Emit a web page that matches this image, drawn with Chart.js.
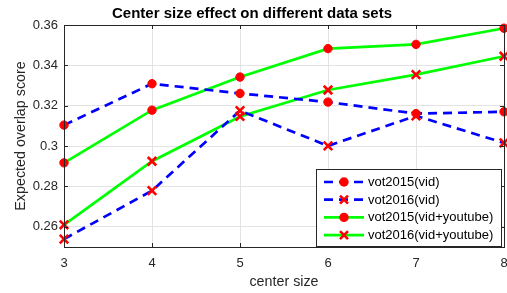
<!DOCTYPE html>
<html>
<head>
<meta charset="utf-8">
<script src="https://cdn.jsdelivr.net/npm/chart.js@4"></script>
<style>
  html, body { margin: 0; padding: 0; background: #fff; }
  #box { width: 507px; height: 293px; }
</style>
</head>
<body>
<div id="box"><canvas id="chart" width="507" height="293"></canvas></div>
<script>
// values
const centerSizes = [3, 4, 5, 6, 7, 8];
const vot2015Vid = [0.3104, 0.3309, 0.3261, 0.3218, 0.3161, 0.3170];
const vot2016Vid = [0.2539, 0.2779, 0.3176, 0.3001, 0.3150, 0.3016];
const vot2015VidYoutube = [0.2917, 0.3178, 0.3342, 0.3483, 0.3504, 0.3584];
const vot2016VidYoutube = [0.2610, 0.2925, 0.3147, 0.3278, 0.3354, 0.3445];
const yTickValues = [0.26, 0.28, 0.3, 0.32, 0.34, 0.36];
const seriesNames = ["vot2015(vid)", "vot2016(vid)", "vot2015(vid+youtube)", "vot2016(vid+youtube)"];

const textColor = "#262626";
const fontFamily = "'Liberation Sans', Arial, Helvetica, sans-serif";

const toPoints = (values) => values.map((v, i) => ({ x: centerSizes[i], y: v }));

const makeSet = (label, values, color, dashed, marker) => ({
  label: label,
  data: toPoints(values),
  borderColor: color,
  borderWidth: 2.7,
  borderDash: dashed ? [9, 6] : [],
  pointStyle: marker,
  pointRadius: marker === "circle" ? 4.2 : 6,
  pointBorderWidth: marker === "circle" ? 1 : 2.6,
  pointBackgroundColor: "#ff0000",
  pointBorderColor: "#ff0000",
  tension: 0,
  clip: false,
});

// box, inward ticks and legend like the matlab figure
const figurePlugin = {
  id: "figurePlugin",
  afterDatasetsDraw(chart) {
    const ctx = chart.ctx;
    const a = chart.chartArea;
    const xs = chart.scales.x;
    const ys = chart.scales.y;
    ctx.save();
    ctx.strokeStyle = textColor;
    ctx.lineWidth = 1;
    ctx.beginPath();
    centerSizes.forEach((c) => {
      const px = Math.round(xs.getPixelForValue(c)) + 0.5;
      ctx.moveTo(px, a.bottom);
      ctx.lineTo(px, a.bottom - 4);
      ctx.moveTo(px, a.top);
      ctx.lineTo(px, a.top + 4);
    });
    yTickValues.forEach((t) => {
      const py = Math.round(ys.getPixelForValue(t)) + 0.5;
      ctx.moveTo(a.left, py);
      ctx.lineTo(a.left + 4, py);
      ctx.moveTo(a.right, py);
      ctx.lineTo(a.right - 4, py);
    });
    ctx.stroke();
    ctx.strokeRect(Math.round(a.left) + 0.5, Math.round(a.top) + 0.5,
      Math.round(a.right - a.left), Math.round(a.bottom - a.top));

    // legend
    const lx = 316.5, ly = 169.5, lw = 185, lh = 77;
    ctx.fillStyle = "#fff";
    ctx.fillRect(lx, ly, lw, lh);
    ctx.strokeStyle = textColor;
    ctx.strokeRect(lx, ly, lw, lh);
    ctx.font = "13px " + fontFamily;
    ctx.textBaseline = "middle";
    chart.data.datasets.forEach((ds, i) => {
      const y = 182 + i * 17.7;
      ctx.strokeStyle = ds.borderColor;
      ctx.lineWidth = ds.borderWidth;
      ctx.setLineDash(ds.borderDash);
      ctx.beginPath();
      ctx.moveTo(324, y);
      ctx.lineTo(364, y);
      ctx.stroke();
      ctx.setLineDash([]);
      ctx.fillStyle = "#ff0000";
      ctx.strokeStyle = "#ff0000";
      ctx.lineWidth = ds.pointBorderWidth;
      ctx.beginPath();
      if (ds.pointStyle === "circle") {
        ctx.arc(344, y, 4.7, 0, Math.PI * 2);
        ctx.fill();
      } else {
        const r = 4;
        ctx.moveTo(344 - r, y - r);
        ctx.lineTo(344 + r, y + r);
        ctx.moveTo(344 + r, y - r);
        ctx.lineTo(344 - r, y + r);
        ctx.stroke();
      }
      ctx.fillStyle = "#000";
      ctx.fillText(ds.label, 368, y + 0.5);
    });
    ctx.restore();
  },
};

new Chart(document.getElementById("chart"), {
  type: "line",
  data: {
    datasets: [
      makeSet(seriesNames[0], vot2015Vid, "#0000ff", true, "circle"),
      makeSet(seriesNames[1], vot2016Vid, "#0000ff", true, "crossRot"),
      makeSet(seriesNames[2], vot2015VidYoutube, "#00ff00", false, "circle"),
      makeSet(seriesNames[3], vot2016VidYoutube, "#00ff00", false, "crossRot"),
    ],
  },
  plugins: [figurePlugin],
  options: {
    responsive: false,
    animation: false,
    layout: { autoPadding: false, padding: { left: 0, right: 3, top: 0, bottom: 0 } },
    plugins: {
      legend: { display: false },
      tooltip: { enabled: false },
      title: {
        display: true,
        text: "Center size effect on different data sets",
        color: "#000",
        font: { family: fontFamily, size: 15, weight: "bold", lineHeight: 1.2 },
        padding: { top: 5, bottom: 2 },
      },
    },
    scales: {
      x: {
        type: "linear",
        min: 3,
        max: 8,
        afterFit: (scale) => {
          scale.height = 46;
          scale.paddingLeft = 0;
          scale.paddingRight = 0;
        },
        afterBuildTicks: (scale) => { scale.ticks = centerSizes.map((v) => ({ value: v })); },
        ticks: { color: textColor, font: { family: fontFamily, size: 13 }, padding: 9 },
        grid: { color: "#e3e3e3", drawTicks: false },
        border: { display: true, color: textColor },
        title: {
          display: true,
          text: "center size",
          color: textColor,
          font: { family: fontFamily, size: 14.3 },
          padding: { top: 2, bottom: 2 },
        },
      },
      y: {
        min: 0.25,
        max: 0.36,
        afterFit: (scale) => { scale.width = 64; },
        afterBuildTicks: (scale) => { scale.ticks = yTickValues.map((v) => ({ value: v })); },
        ticks: {
          color: textColor,
          font: { family: fontFamily, size: 13 },
          padding: 6,
          callback: (v) => String(+v.toFixed(2)),
        },
        grid: { color: "#e3e3e3", drawTicks: false },
        border: { display: true, color: textColor },
        title: {
          display: true,
          text: "Expected overlap score",
          color: textColor,
          font: { family: fontFamily, size: 14.3 },
          padding: { top: 12, bottom: 0 },
        },
      },
    },
  },
});
</script>
</body>
</html>
